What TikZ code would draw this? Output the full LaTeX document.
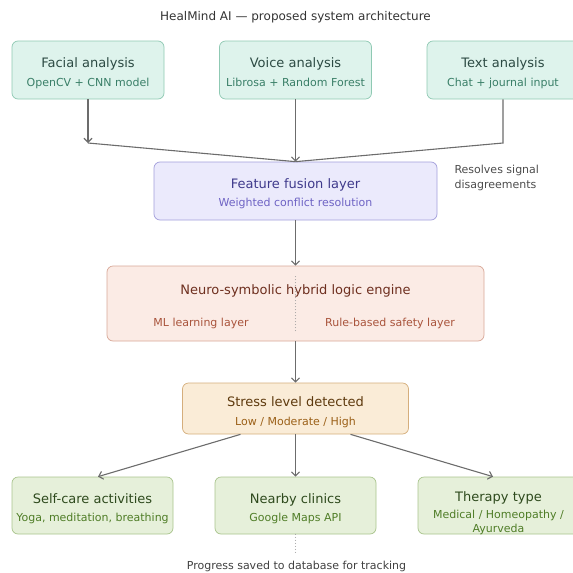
\documentclass[tikz,border=0pt]{standalone}
\usepackage{fontspec}
\setmainfont{DejaVu Sans}
\usepackage{xcolor}
\usetikzlibrary{arrows.meta}
\definecolor{tealfill}{HTML}{DEF3EC}
\definecolor{tealline}{HTML}{8FC9B3}
\definecolor{tealttl}{HTML}{2C4A43}
\definecolor{tealsub}{HTML}{3A7F68}
\definecolor{lavfill}{HTML}{EBEAFC}
\definecolor{lavline}{HTML}{A29EDB}
\definecolor{lavttl}{HTML}{3F3A8C}
\definecolor{lavsub}{HTML}{6E63C4}
\definecolor{corfill}{HTML}{FBEBE5}
\definecolor{corline}{HTML}{D8A898}
\definecolor{corttl}{HTML}{6E2F1F}
\definecolor{corsub}{HTML}{A9543C}
\definecolor{ambfill}{HTML}{FAECD7}
\definecolor{ambline}{HTML}{D5AE7C}
\definecolor{ambttl}{HTML}{5E3A0E}
\definecolor{ambsub}{HTML}{9B6018}
\definecolor{grnfill}{HTML}{E6F0DA}
\definecolor{grnline}{HTML}{A9C48D}
\definecolor{grnttl}{HTML}{2E4A1D}
\definecolor{grnsub}{HTML}{4F7D27}
\definecolor{arrowgray}{HTML}{6C6C6C}

\begin{document}
\begin{tikzpicture}[x=1pt, y=-1pt,
        box/.style = {draw, rounded corners=6pt, line width=0.7pt, inner sep=0pt},
        ttl/.style = {anchor=base, font=\fontsize{13}{16}\selectfont},
        sub/.style = {anchor=base, font=\fontsize{11}{14}\selectfont},
        arr/.style = {-{Straight Barb[length=4pt,width=8pt]}, draw=arrowgray, line width=1.1pt},
        link/.style = {draw=arrowgray, line width=1.1pt},
        dots/.style = {draw=black!38, line width=1.1pt, line cap=round, dash pattern=on 0pt off 3pt}]
        \useasboundingbox (0,0) rectangle (573,573);
        \node[anchor=base, text=black!80, font=\fontsize{12}{14}\selectfont] (title) at (295.5,20.5) {HealMind AI — proposed system architecture};

        % inputs
        \node[box, fill=tealfill, draw=tealline, minimum width=152, minimum height=58] (facial) at (88,70) {};
        \node[box, fill=tealfill, draw=tealline, minimum width=152, minimum height=58] (voice) at (295.5,70) {};
        \node[box, fill=tealfill, draw=tealline, minimum width=152, minimum height=58] (textin) at (503,70) {};
        \node[ttl, text=tealttl] (facialT) at (88,67) {Facial analysis};
        \node[sub, text=tealsub] (facialS) at (88,86) {OpenCV + CNN model};
        \node[ttl, text=tealttl] (voiceT) at (295.5,67) {Voice analysis};
        \node[sub, text=tealsub] (voiceS) at (295.5,86) {Librosa + Random Forest};
        \node[ttl, text=tealttl] (textinT) at (503,67) {Text analysis};
        \node[sub, text=tealsub] (textinS) at (503,86) {Chat + journal input};

        % fusion
        \node[box, fill=lavfill, draw=lavline, minimum width=283, minimum height=58] (fusion) at (295.5,191) {};
        \node[ttl, text=lavttl] (fusionT) at (295.5,188) {Feature fusion layer};
        \node[sub, text=lavsub] (fusionS) at (295.5,206) {Weighted conflict resolution};
        \node[anchor=base west, align=left, text=black!70, font=\fontsize{11}{15}\selectfont] (note) at (451,188) {Resolves signal\\disagreements};

        \coordinate (j1) at (88,143);
        \coordinate (j3) at (503,143);
        \draw[arr] (facial.south) -- (j1);
        \draw[link] (j1) -- (fusion.north);
        \draw[arr] (voice.south) -- (fusion.north);
        \draw[link] (textin.south) -- (j3) -- (fusion.north);

        % engine
        \node[box, fill=corfill, draw=corline, minimum width=377, minimum height=75] (neuro) at (295.5,303.5) {};
        \node[ttl, text=corttl] (neuroT) at (295.5,294) {Neuro-symbolic hybrid logic engine};
        \node[sub, text=corsub] (ml) at (201,326) {ML learning layer};
        \node[sub, text=corsub] (rule) at (390,326) {Rule-based safety layer};
        \draw[dots] ([yshift=-11]neuro.north) -- ([yshift=9]neuro.south);
        \draw[arr] (fusion.south) -- (neuro.north);

        % result
        \node[box, fill=ambfill, draw=ambline, minimum width=226, minimum height=51] (stress) at (295.5,408.5) {};
        \node[ttl, text=ambttl] (stressT) at (295.5,406.5) {Stress level detected};
        \node[sub, text=ambsub] (stressS) at (295.5,425) {Low / Moderate / High};
        \draw[arr] (neuro.south) -- (stress.north);

        % outputs
        \node[box, fill=grnfill, draw=grnline, minimum width=161, minimum height=57] (selfcare) at (92.5,505.5) {};
        \node[box, fill=grnfill, draw=grnline, minimum width=161, minimum height=57] (clinics) at (295.5,505.5) {};
        \node[box, fill=grnfill, draw=grnline, minimum width=161, minimum height=57] (therapy) at (498.5,505.5) {};
        \node[ttl, text=grnttl] (selfcareT) at (92.5,503) {Self-care activities};
        \node[sub, text=grnsub] (selfcareS) at (92.5,521) {Yoga, meditation, breathing};
        \node[ttl, text=grnttl] (clinicsT) at (295.5,503) {Nearby clinics};
        \node[sub, text=grnsub] (clinicsS) at (295.5,521) {Google Maps API};
        \node[ttl, text=grnttl] (therapyT) at (498.5,501.5) {Therapy type};
        \node[sub, text=grnsub] (therapyS) at (498.5,518.5) {Medical / Homeopathy /};
        \node[sub, text=grnsub] (therapyS2) at (498.5,532.5) {Ayurveda};

        \draw[arr] ([xshift=-55]stress.south) -- ([xshift=5.5]selfcare.north);
        \draw[arr] (stress.south) -- (clinics.north);
        \draw[arr] ([xshift=55]stress.south) -- ([xshift=-5.5]therapy.north);

        \node[anchor=base, text=black!75, font=\fontsize{11}{14}\selectfont] (progress) at (296.5,569) {Progress saved to database for tracking};
        \coordinate (pend) at (295.5,555);
        \draw[dots] (clinics.south) -- (pend);
\end{tikzpicture}
\end{document}
